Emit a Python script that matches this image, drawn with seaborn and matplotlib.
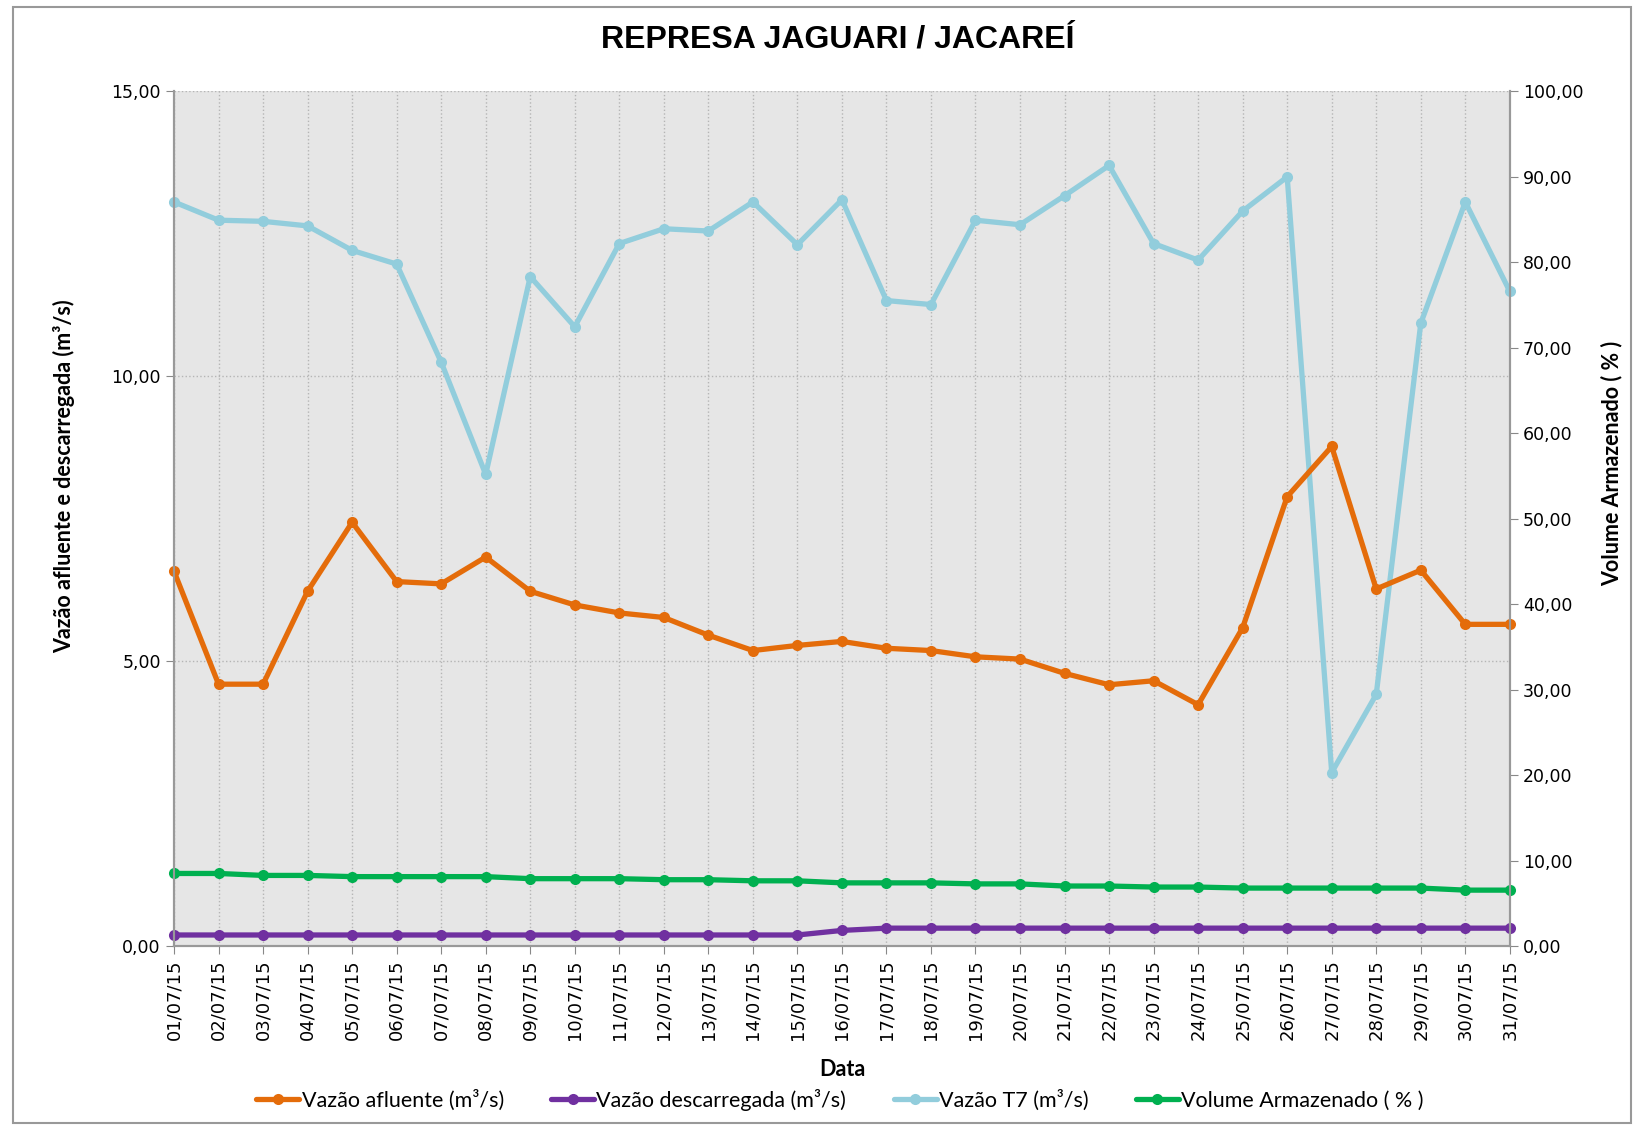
import numpy as np
import pandas as pd
import seaborn as sns
import matplotlib.pyplot as plt
from matplotlib.ticker import FuncFormatter, MultipleLocator
from matplotlib.lines import Line2D
from matplotlib.patches import Rectangle

# Dados (julho/2015)
dias = [f"{d:02d}/07/15" for d in range(1, 32)]

vazao_afluente = [6.58, 4.60, 4.60, 6.23, 7.44, 6.40, 6.36, 6.83, 6.23, 5.99,
                  5.85, 5.77, 5.46, 5.19, 5.28, 5.35, 5.23, 5.19, 5.08, 5.04,
                  4.79, 4.59, 4.66, 4.24, 5.59, 7.89, 8.77, 6.27, 6.60, 5.65, 5.65]

vazao_descarregada = [0.20] * 15 + [0.28] + [0.32] * 15

vazao_t7 = [13.06, 12.74, 12.72, 12.64, 12.21, 11.97, 10.25, 8.28, 11.75, 10.87,
            12.33, 12.59, 12.55, 13.06, 12.31, 13.10, 11.33, 11.26, 12.74, 12.66,
            13.17, 13.70, 12.33, 12.04, 12.90, 13.50, 3.05, 4.42, 10.93, 13.06, 11.49]

volume_armazenado = [8.53, 8.53, 8.30, 8.30, 8.16, 8.16, 8.16, 8.16, 7.92, 7.92,
                     7.92, 7.80, 7.80, 7.67, 7.67, 7.43, 7.43, 7.43, 7.31, 7.31,
                     7.06, 7.06, 6.94, 6.94, 6.82, 6.82, 6.82, 6.82, 6.82, 6.58, 6.58]

nomes = ["Vazão afluente (m³/s)", "Vazão descarregada (m³/s)",
         "Vazão T7 (m³/s)", "Volume Armazenado ( % )"]
cores = ["#E46C0A", "#7030A0", "#92CDDC", "#00B050"]

df = pd.DataFrame({
    "pos": np.arange(len(dias)),
    "afl": vazao_afluente,
    "desc": vazao_descarregada,
    "t7": vazao_t7,
    "vol": volume_armazenado,
})

sns.set_style("white")
plt.rcParams["font.family"] = ["DejaVu Sans"]
plt.rcParams["text.color"] = "black"
plt.rcParams["axes.labelcolor"] = "black"
plt.rcParams["xtick.labelcolor"] = "black"
plt.rcParams["ytick.labelcolor"] = "black"

fig = plt.figure(figsize=(16.34, 11.28), dpi=100)
ax = fig.add_axes([0.1065, 0.161, 0.8175, 0.758])
ax2 = ax.twinx()

estilo = dict(marker="o", markersize=8, linewidth=3.8, markeredgewidth=0, clip_on=False)
sns.lineplot(data=df, x="pos", y="t7", ax=ax, color=cores[2], **estilo)
sns.lineplot(data=df, x="pos", y="afl", ax=ax, color=cores[0], **estilo)
sns.lineplot(data=df, x="pos", y="desc", ax=ax, color=cores[1], **estilo)
sns.lineplot(data=df, x="pos", y="vol", ax=ax2, color=cores[3], **estilo)

fmt = FuncFormatter(lambda v, p: f"{v:.2f}".replace(".", ","))

ax.set_facecolor("#e6e6e6")
ax.set_xlim(0, len(dias) - 1)
ax.set_ylim(0, 15)
ax.yaxis.set_major_locator(MultipleLocator(5))
ax.yaxis.set_major_formatter(fmt)
ax.set_xticks(df["pos"])
ax.set_xticklabels(dias, rotation=90, fontsize=13)
ax.tick_params(axis="y", labelsize=12.5, length=6, color="#888888", direction="out", left=True)
ax.tick_params(axis="x", length=6, color="#888888", direction="out", bottom=True)
ax.grid(True, axis="both", linestyle=":", color="#b5b5b5", linewidth=1)

ax2.set_ylim(0, 100)
ax2.yaxis.set_major_locator(MultipleLocator(10))
ax2.yaxis.set_major_formatter(fmt)
ax2.tick_params(axis="y", labelsize=12.5, length=6, color="#888888", direction="out", right=True)
ax2.grid(False)

for a in (ax, ax2):
    a.spines["top"].set_visible(False)
    for s in ("left", "right", "bottom"):
        a.spines[s].set_color("#999999")
        a.spines[s].set_linewidth(1.5)

rotulo = dict(fontsize=15.5, fontweight="bold", family=["Lato", "DejaVu Sans"])
ax.set_xlabel("Data", **rotulo)
ax.xaxis.set_label_coords(0.5, -0.132)
ax.set_ylabel("Vazão afluente e descarregada (m³/s)", **rotulo)
ax.yaxis.set_label_coords(-0.074, 0.55)
ax2.set_ylabel("Volume Armazenado ( % )", **rotulo)
ax2.yaxis.set_label_coords(1.068, 0.565)

fig.suptitle("REPRESA JAGUARI / JACAREÍ", x=0.513, y=0.978, fontsize=23,
             fontweight="bold", family=["Liberation Sans", "DejaVu Sans"])

handles = [Line2D([], [], color=c, marker="o", markersize=8, linewidth=3.8,
                  markeredgewidth=0) for c in cores]
fig.legend(handles, nomes, loc="center", bbox_to_anchor=(0.514, 0.025), ncol=4,
           frameon=False, handlelength=2.0, handletextpad=0.1, columnspacing=2.2,
           prop={"family": ["Lato", "DejaVu Sans"], "size": 15.5})

fig.add_artist(Rectangle((0.008, 0.004), 0.99, 0.99, transform=fig.transFigure,
                         fill=False, edgecolor="#999999", linewidth=1.5))

fig.savefig("out.png", dpi=100)
